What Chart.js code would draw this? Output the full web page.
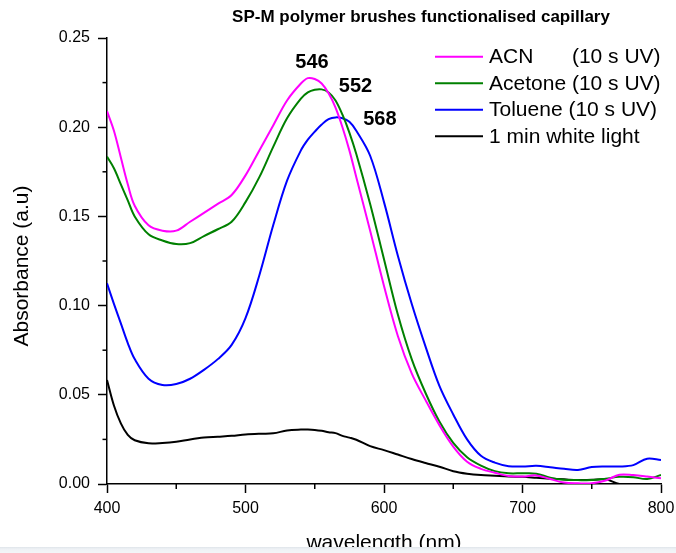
<!DOCTYPE html>
<html>
<head>
<meta charset="utf-8">
<script src="https://cdn.jsdelivr.net/npm/chart.js@4.4.1/dist/chart.umd.min.js"></script>
<style>
  html, body { margin: 0; padding: 0; background: #ffffff; overflow: hidden; }
  #wrap { position: relative; width: 676px; height: 553px; }
  #strip { position: absolute; left: 0; top: 547px; width: 676px; height: 6px;
           background: linear-gradient(to bottom, #dfe4ea 0px, #eef1f5 2px, #f3f5f8 6px); }
</style>
</head>
<body>
<div id="wrap">
  <canvas id="c" width="676" height="553"></canvas>
  <div id="strip"></div>
</div>
<script>
const wavelengths = [400, 405, 410, 415, 420, 430, 440, 450, 460, 470, 480, 490, 500, 510, 520, 530, 540, 545, 550, 555, 560, 565, 570, 575, 580, 590, 600, 610, 620, 630, 640, 650, 660, 670, 680, 690, 700, 710, 720, 730, 740, 750, 760, 770, 780, 790, 800];

const acnAbs = [0.209, 0.198, 0.183, 0.168, 0.156, 0.145, 0.142, 0.142, 0.147, 0.152, 0.157, 0.162, 0.173, 0.187, 0.201, 0.215, 0.2245, 0.2275, 0.227, 0.2245, 0.219, 0.211, 0.200, 0.187, 0.172, 0.142, 0.111, 0.083, 0.062, 0.047, 0.033, 0.021, 0.0125, 0.0085, 0.0063, 0.0045, 0.0042, 0.0048, 0.0028, 0.0008, 0.0004, 0.0004, 0.002, 0.0052, 0.005, 0.0042, 0.0032];

const acetoneAbs = [0.1835, 0.177, 0.168, 0.159, 0.150, 0.140, 0.1365, 0.1345, 0.135, 0.139, 0.1428, 0.147, 0.158, 0.172, 0.189, 0.205, 0.216, 0.2195, 0.221, 0.2212, 0.2195, 0.215, 0.207, 0.197, 0.185, 0.157, 0.126, 0.095, 0.070, 0.051, 0.035, 0.023, 0.015, 0.0103, 0.0072, 0.006, 0.006, 0.0058, 0.0035, 0.0024, 0.0022, 0.0022, 0.003, 0.004, 0.0038, 0.0028, 0.005];

const tolueneAbs = [0.1125, 0.101, 0.090, 0.079, 0.070, 0.059, 0.0555, 0.056, 0.059, 0.064, 0.070, 0.078, 0.093, 0.117, 0.145, 0.170, 0.187, 0.193, 0.1975, 0.2015, 0.2045, 0.2055, 0.205, 0.203, 0.198, 0.184, 0.158, 0.128, 0.101, 0.077, 0.055, 0.039, 0.025, 0.0158, 0.012, 0.010, 0.0098, 0.0102, 0.0094, 0.0085, 0.0079, 0.0095, 0.0098, 0.0098, 0.0106, 0.0142, 0.0134];

const whiteLightAbs = [0.0583, 0.044, 0.034, 0.0275, 0.0245, 0.0228, 0.023, 0.0237, 0.025, 0.026, 0.0265, 0.027, 0.0278, 0.0282, 0.0284, 0.030, 0.0305, 0.0305, 0.0303, 0.0298, 0.029, 0.0285, 0.027, 0.026, 0.0248, 0.0212, 0.019, 0.0165, 0.014, 0.0118, 0.0097, 0.0072, 0.0058, 0.005, 0.0046, 0.0042, 0.004, 0.0035, 0.003, 0.0026, 0.0022, 0.0024, 0.0026, 0.0, 0.0, 0.0, 0.0];

const seriesNames = ['ACN', 'Acetone', 'Toluene', '1 min white light'];
const seriesConditions = ['(10 s UV)', '(10 s UV)', '(10 s UV)', ''];
const seriesColors = ['#ff00ff', '#008000', '#0000ff', '#000000'];
const peakWavelengths = ['546', '552', '568'];
const xTickValues = [400, 500, 600, 700, 800];
const yTickValues = [0.00, 0.05, 0.10, 0.15, 0.20, 0.25];

const FONT = '"Liberation Sans", Arial, Helvetica, sans-serif';
const seriesValues = [acnAbs, acetoneAbs, tolueneAbs, whiteLightAbs];

const datasets = seriesValues.map((vals, i) => ({
  label: seriesNames[i] + (seriesConditions[i] ? ' ' + seriesConditions[i] : ''),
  data: wavelengths.map((w, j) => ({ x: w, y: vals[j] })),
  borderColor: seriesColors[i],
  backgroundColor: seriesColors[i],
  borderWidth: 2,
  pointRadius: 0,
  fill: false,
  tension: 0.35
}));

const decorPlugin = {
  id: 'decor',
  afterDraw(chart) {
    const ctx = chart.ctx;
    const xs = chart.scales.x, ys = chart.scales.y;
    ctx.save();
    // Title
    ctx.fillStyle = '#000';
    ctx.font = 'bold 17px ' + FONT;
    ctx.textAlign = 'center';
    ctx.textBaseline = 'middle';
    ctx.fillText('SP-M polymer brushes functionalised capillary', 421, 17);

    // Y axis title
    ctx.save();
    ctx.translate(22.5, 266);
    ctx.rotate(-Math.PI / 2);
    ctx.font = '21px ' + FONT;
    ctx.textAlign = 'center';
    ctx.textBaseline = 'middle';
    ctx.fillText('Absorbance (a.u)', 0, 0);
    ctx.restore();

    // Minor ticks
    ctx.strokeStyle = '#000';
    ctx.lineWidth = 1.5;
    const yStep = 0.05, xStep = 100;
    for (let v = ys.min + yStep / 2; v < ys.max; v += yStep) {
      const py = ys.getPixelForValue(v);
      ctx.beginPath();
      ctx.moveTo(xs.left, py);
      ctx.lineTo(xs.left - 4.5, py);
      ctx.stroke();
    }
    for (let v = xs.min + xStep / 2; v < xs.max; v += xStep) {
      const px = xs.getPixelForValue(v);
      ctx.beginPath();
      ctx.moveTo(px, ys.bottom);
      ctx.lineTo(px, ys.bottom + 5);
      ctx.stroke();
    }

    // Legend
    const lg = chart.options.plugins.decor.legend;
    ctx.font = '21px ' + FONT;
    ctx.textAlign = 'left';
    ctx.textBaseline = 'middle';
    const alignX = lg.textX + ctx.measureText(seriesNames[1] + ' ').width;
    chart.data.datasets.forEach((ds, i) => {
      const y = lg.top + i * lg.rowH;
      ctx.strokeStyle = ds.borderColor;
      ctx.lineWidth = 2;
      ctx.beginPath();
      ctx.moveTo(lg.lineX0, y);
      ctx.lineTo(lg.lineX1, y);
      ctx.stroke();
      ctx.fillStyle = '#000';
      ctx.fillText(seriesNames[i], lg.textX, y + 1);
      if (seriesConditions[i]) {
        const natural = lg.textX + ctx.measureText(seriesNames[i] + ' ').width;
        const cx = i === 0 ? alignX : natural;
        ctx.fillText(seriesConditions[i], cx, y + 1);
      }
    });

    // Peak labels
    ctx.font = 'bold 20px ' + FONT;
    ctx.textAlign = 'center';
    ctx.textBaseline = 'middle';
    ctx.fillStyle = '#000';
    chart.options.plugins.decor.peaks.forEach((p, i) => {
      ctx.fillText(peakWavelengths[i], xs.getPixelForValue(p.x), ys.getPixelForValue(p.y));
    });
    ctx.restore();
  }
};

new Chart(document.getElementById('c'), {
  type: 'line',
  data: { datasets },
  plugins: [decorPlugin],
  options: {
    responsive: false,
    animation: false,
    events: [],
    layout: { padding: { top: 38, right: 15, bottom: 0, left: 0 } },
    plugins: {
      legend: { display: false },
      title: { display: false },
      tooltip: { enabled: false },
      decor: {
        legend: { top: 56.7, rowH: 26.5, lineX0: 435, lineX1: 483, textX: 489 },
        peaks: [ { x: 548, y: 0.2365 }, { x: 579.4, y: 0.2228 }, { x: 597, y: 0.2043 } ]
      }
    },
    scales: {
      x: {
        type: 'linear',
        min: 400, max: 800,
        afterFit(scale) { scale.height = 69; scale.paddingLeft = 0; scale.paddingRight = 0; },
        afterBuildTicks(scale) { scale.ticks = xTickValues.map(v => ({ value: v })); },
        border: { display: true, color: '#000', width: 1.5 },
        grid: { display: true, drawOnChartArea: false, drawTicks: true, tickLength: 9, color: '#000', tickWidth: 1.5 },
        ticks: { color: '#000', font: { family: FONT, size: 16 }, padding: 6, maxRotation: 0, callback: v => String(v) },
        title: { display: true, text: 'wavelength (nm)', color: '#000', font: { family: FONT, size: 21 }, padding: { top: 0, bottom: -3 } }
      },
      y: {
        type: 'linear',
        min: 0, max: 0.25,
        afterFit(scale) { scale.width = 107; scale.paddingTop = 0; scale.paddingBottom = 0; },
        afterBuildTicks(scale) { scale.ticks = yTickValues.map(v => ({ value: v })); },
        border: { display: true, color: '#000', width: 1.5 },
        grid: { display: true, drawOnChartArea: false, drawTicks: true, tickLength: 9, color: '#000', tickWidth: 1.5 },
        ticks: { color: '#000', font: { family: FONT, size: 16 }, padding: 8, callback: v => Number(v).toFixed(2) }
      }
    }
  }
});
</script>
</body>
</html>
